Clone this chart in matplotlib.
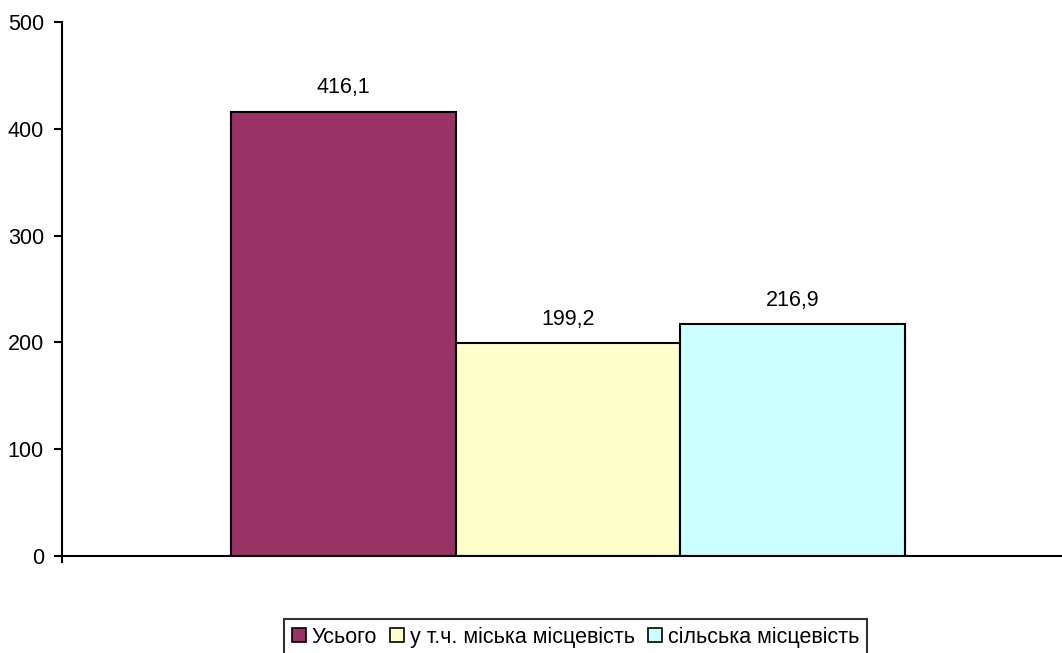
import numpy as np
import matplotlib.pyplot as plt
from matplotlib.patches import Patch

plt.rcParams['font.family'] = ['Liberation Sans', 'DejaVu Sans']

# Data
series = ["Усього", "у т.ч. міська місцевість", "сільська місцевість"]
values = [416.1, 199.2, 216.9]
colors = ["#993366", "#FFFFCC", "#CCFFFF"]
yticks = [0, 100, 200, 300, 400, 500]

fs = 15.5

fig = plt.figure(figsize=(10.62, 6.53), dpi=100)
ax = fig.add_axes([0.0584, 0.1486, 0.9416, 0.8177])

x = np.arange(len(values))
bars = ax.bar(x, values, width=1.0, color=colors, edgecolor="black", linewidth=1.5)

for b, v in zip(bars, values):
    ax.annotate(f"{v:.1f}".replace(".", ","), (b.get_x() + b.get_width() / 2, v),
                xytext=(0, 17), textcoords="offset points", ha="center", va="center",
                fontsize=fs)

left, right = -1.252, 3.198
ax.set_xlim(left, right)
ax.set_ylim(0, 500)
ax.set_yticks(yticks)
ax.set_yticklabels([str(t) for t in yticks], fontsize=fs)
ax.set_xticks([left])
ax.set_xticklabels([""])
ax.tick_params(axis="y", direction="out", length=6, width=1.5, pad=7)
ax.tick_params(axis="x", direction="out", length=5, width=1.5)

for s in ["top", "right"]:
    ax.spines[s].set_visible(False)
for s in ["left", "bottom"]:
    ax.spines[s].set_linewidth(1.5)

handles = [Patch(facecolor=c, edgecolor="black", linewidth=1.2) for c in colors]
leg = fig.legend(handles, series, loc="upper center", bbox_to_anchor=(0.542, 0.052),
                 ncol=3, fontsize=fs, frameon=True, fancybox=False,
                 handlelength=0.65, handleheight=0.65, handletextpad=0.28,
                 columnspacing=0.6, borderpad=0.35, borderaxespad=0)
leg.get_frame().set_edgecolor("black")
leg.get_frame().set_linewidth(1.5)

fig.savefig("out.png", dpi=100)
